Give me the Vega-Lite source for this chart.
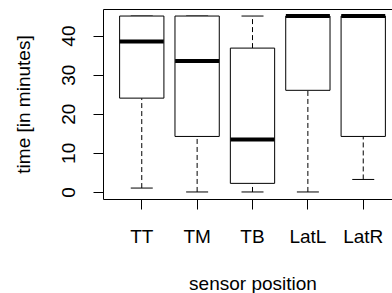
{
  "$schema": "https://vega.github.io/schema/vega-lite/v6.json",
  "width": 299,
  "height": 190,
  "autosize": {"type": "none"},
  "padding": {"left": 103, "top": 9, "right": 0, "bottom": 94},
  "background": "white",
  "config": {
    "view": {"stroke": "black", "strokeWidth": 1},
    "font": "Liberation Sans",
    "tick": {"opacity": 1},
    "axisX": {
      "domain": false, "grid": false, "tickSize": 10, "tickColor": "black",
      "labelFontSize": 19, "labelPadding": 18, "labelColor": "black", "labelAngle": 0,
      "titleFontSize": 19, "titleFontWeight": "normal", "titleColor": "black",
      "titleBaseline": "alphabetic", "titleY": 90
    },
    "axisY": {
      "domain": false, "grid": false, "tickSize": 10, "tickColor": "black",
      "labelAngle": -90, "labelAlign": "center", "labelBaseline": "alphabetic",
      "labelPadding": 19, "labelFontSize": 19, "labelColor": "black", "labelOverlap": false,
      "titleFontSize": 19, "titleFontWeight": "normal", "titleColor": "black",
      "titleAngle": -90, "titleBaseline": "alphabetic", "titleAlign": "center",
      "titleX": -74, "titleY": 95
    }
  },
  "data": {
    "values": [
      {"pos": "TT", "lo": 1, "q1": 24, "med": 38.5, "q3": 45, "hi": 45},
      {"pos": "TM", "lo": 0, "q1": 14.2, "med": 33.5, "q3": 45, "hi": 45},
      {"pos": "TB", "lo": 0, "q1": 2.2, "med": 13.4, "q3": 36.8, "hi": 45},
      {"pos": "LatL", "lo": 0, "q1": 26, "med": 45, "q3": 45, "hi": 45},
      {"pos": "LatR", "lo": 3.2, "q1": 14.2, "med": 45, "q3": 45, "hi": 45}
    ]
  },
  "encoding": {
    "x": {
      "field": "pos", "type": "nominal", "sort": null, "title": "sensor position",
      "scale": {"paddingInner": 0.2, "paddingOuter": 0.3}
    }
  },
  "layer": [
    {
      "mark": {"type": "rule", "color": "black", "strokeDash": [5, 3], "strokeWidth": 1},
      "encoding": {
        "y": {"field": "lo", "type": "quantitative", "title": "time [in minutes]",
              "scale": {"domain": [-1.8, 46.8], "nice": false, "zero": false},
              "axis": {"values": [0, 10, 20, 30, 40]}},
        "y2": {"field": "q1"}
      }
    },
    {
      "mark": {"type": "rule", "color": "black", "strokeDash": [5, 3], "strokeWidth": 1},
      "encoding": {
        "y": {"field": "q3", "type": "quantitative", "title": "time [in minutes]",
              "scale": {"domain": [-1.8, 46.8], "nice": false, "zero": false},
              "axis": {"values": [0, 10, 20, 30, 40]}},
        "y2": {"field": "hi"}
      }
    },
    {
      "mark": {"type": "tick", "color": "black", "size": 22, "thickness": 1, "opacity": 1},
      "encoding": {
        "y": {"field": "lo", "type": "quantitative", "title": "time [in minutes]",
              "scale": {"domain": [-1.8, 46.8], "nice": false, "zero": false},
              "axis": {"values": [0, 10, 20, 30, 40]}}
      }
    },
    {
      "mark": {"type": "tick", "color": "black", "size": 22, "thickness": 1, "opacity": 1},
      "encoding": {
        "y": {"field": "hi", "type": "quantitative", "title": "time [in minutes]",
              "scale": {"domain": [-1.8, 46.8], "nice": false, "zero": false},
              "axis": {"values": [0, 10, 20, 30, 40]}}
      }
    },
    {
      "mark": {"type": "bar", "fill": "white", "stroke": "black", "strokeWidth": 1},
      "encoding": {
        "y": {"field": "q1", "type": "quantitative", "title": "time [in minutes]",
              "scale": {"domain": [-1.8, 46.8], "nice": false, "zero": false},
              "axis": {"values": [0, 10, 20, 30, 40]}},
        "y2": {"field": "q3"}
      }
    },
    {
      "mark": {"type": "tick", "color": "black", "size": 44, "thickness": 4, "opacity": 1},
      "encoding": {
        "y": {"field": "med", "type": "quantitative", "title": "time [in minutes]",
              "scale": {"domain": [-1.8, 46.8], "nice": false, "zero": false},
              "axis": {"values": [0, 10, 20, 30, 40]}}
      }
    }
  ]
}
